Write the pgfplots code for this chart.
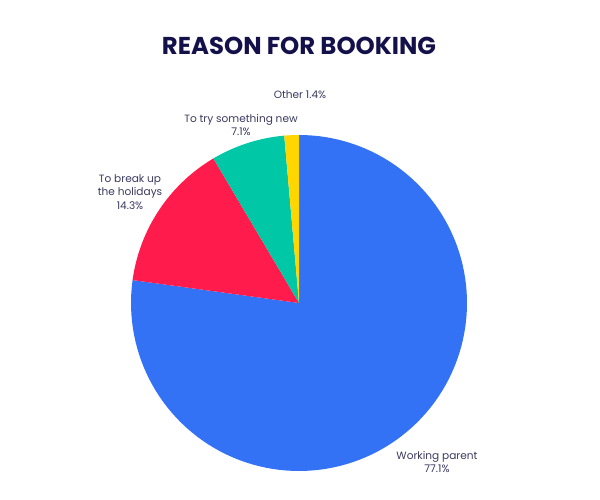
\documentclass[border=0pt]{standalone}
\usepackage{fontspec}
\setmainfont{Poppins}
\usepackage{pgfplots}
\pgfplotsset{compat=1.18}

\definecolor{cWork}{HTML}{3371F5}
\definecolor{cBreak}{HTML}{FF1B4B}
\definecolor{cNew}{HTML}{00C8A7}
\definecolor{cOther}{HTML}{FFD600}
\definecolor{cText}{HTML}{3A3960}
\definecolor{cTitle}{HTML}{14114A}

% slice values (percent)
\def\vA{77.1}\def\vB{14.3}\def\vC{7.1}\def\vD{1.4}
\pgfmathsetmacro\tot{\vA+\vB+\vC+\vD}
\pgfmathsetmacro\aA{90}
\pgfmathsetmacro\aB{90-\vA/\tot*360}
\pgfmathsetmacro\aC{\aB-\vB/\tot*360}
\pgfmathsetmacro\aD{\aC-\vC/\tot*360}
\pgfmathsetmacro\aE{\aD-\vD/\tot*360}

% centre and radius in pixel units
\def\cx{299}\def\cy{197}\def\rr{168}

\begin{document}
\begin{tikzpicture}
\begin{axis}[
  name=ax,
  width=600bp, height=500bp,
  scale only axis,
  xmin=0, xmax=600, ymin=0, ymax=500,
  hide axis,
  clip=false,
]
\addplot[fill=cWork, draw=none, domain=\aB:\aA, samples=120]
  ({\cx+\rr*cos(x)},{\cy+\rr*sin(x)}) -- (axis cs:\cx,\cy) -- cycle;
\addplot[fill=cBreak, draw=none, domain=\aC:\aB, samples=40]
  ({\cx+\rr*cos(x)},{\cy+\rr*sin(x)}) -- (axis cs:\cx,\cy) -- cycle;
\addplot[fill=cNew, draw=none, domain=\aD:\aC, samples=25]
  ({\cx+\rr*cos(x)},{\cy+\rr*sin(x)}) -- (axis cs:\cx,\cy) -- cycle;
\addplot[fill=cOther, draw=none, domain=\aE:\aD, samples=6]
  ({\cx+\rr*cos(x)},{\cy+\rr*sin(x)}) -- (axis cs:\cx,\cy) -- cycle;

\begin{scope}[every node/.style={text=cText, align=center,
    font=\fontsize{10.6}{13.8}\selectfont}]
\node at (axis cs:437,38) {Working parent\\77.1\%};
\node at (axis cs:130,308) {To break up\\the holidays\\14.3\%};
\node at (axis cs:241,375) {To try something new\\7.1\%};
\node at (axis cs:300,405) {Other 1.4\%};
\end{scope}
\node[text=cTitle, font=\fontsize{24.5}{28}\selectfont\bfseries]
  at (axis cs:299,454) {REASON FOR BOOKING};
\end{axis}
\pgfresetboundingbox
\path (ax.south west) rectangle (ax.north east);
\end{tikzpicture}
\end{document}
